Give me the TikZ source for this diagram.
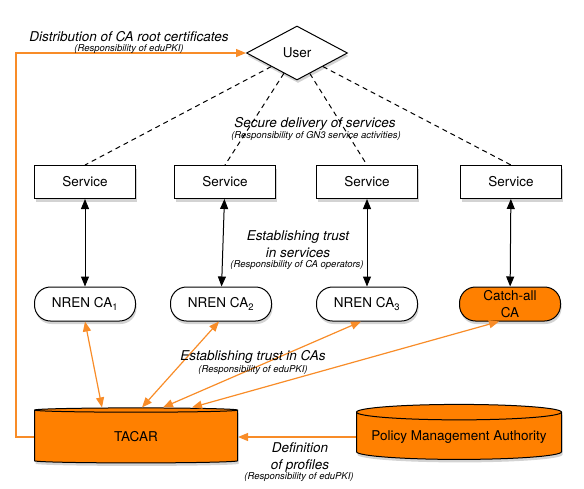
\documentclass[tikz,border=0pt]{standalone}
\usepackage{fontspec}
\setmainfont{TeX Gyre Heros}
\usetikzlibrary{positioning,shapes,shapes.geometric,shapes.misc,arrows.meta,shadows}
\definecolor{pkiorange}{RGB}{255,128,0}
\definecolor{pkiline}{RGB}{248,140,40}
\tikzset{
  txt/.style={font=\fontsize{13.5}{17}\selectfont},
  shade/.style={drop shadow={opacity=0.35,shadow xshift=1pt,shadow yshift=-3pt}},
  user/.style={diamond,draw,line width=1pt,fill=white,shade,txt,minimum width=101pt,minimum height=54pt,inner sep=0pt},
  service/.style={rectangle,draw,line width=1pt,fill=white,shade,txt,minimum width=101pt,minimum height=33pt},
  ca/.style={rectangle,rounded corners=16pt,draw,line width=1pt,fill=white,shade,txt,minimum width=101pt,minimum height=34pt,align=center,inner sep=1pt},
  db/.style={cylinder,shape border rotate=90,aspect=0.085,draw,line width=1pt,fill=pkiorange,shade,txt,minimum width=203pt,minimum height=55pt},
  lbl/.style={font=\fontsize{13.5}{17}\selectfont\itshape,align=center,inner sep=0pt},
  sublbl/.style={font=\fontsize{9.5}{11}\selectfont\itshape,inner sep=0pt},
  dline/.style={dashed,dash pattern=on 5pt off 4pt,line width=1pt},
  bline/.style={line width=1pt,{Triangle[length=10pt,width=8pt]}-{Triangle[length=10pt,width=8pt]}},
  oline/.style={pkiline,line width=1.2pt,-{Triangle[length=10pt,width=8pt]}},
  obline/.style={pkiline,line width=1.2pt,{Triangle[length=10pt,width=8pt]}-{Triangle[length=10pt,width=8pt]}}
}
\begin{document}
\begin{tikzpicture}[x=1pt,y=-1pt]
  \useasboundingbox (0,0) rectangle (584,488);
  \node[user] (user) at (297,53) {User};
  \node[service] (s1) at (85,182) {Service};
  \node[service] (s2) at (225,182) {Service};
  \node[service] (s3) at (367,182) {Service};
  \node[service] (s4) at (511,182) {Service};
  \node[ca] (ca1) at (85,304) {NREN CA\textsubscript{1}};
  \node[ca] (ca2) at (221,304) {NREN CA\textsubscript{2}};
  \node[ca] (ca3) at (367,304) {NREN CA\textsubscript{3}};
  \node[ca,fill=pkiorange] (caall) at (510,304) {Catch-all\\CA};
  \node[db] (tacar) at (136,437) {TACAR};
  \node[db,minimum width=205pt] (pma) at (459,437) {Policy Management Authority};

  \foreach \i in {1,...,4} {
    \draw[dline] (user) -- (s\i.north);
  }
  \draw[bline] (s1) -- (ca1);
  \draw[bline] (s2) -- (ca2);
  \draw[bline] (s3) -- (ca3);
  \draw[bline] (s4) -- (caall);

  \draw[obline] (ca1.south) -- ([xshift=-34pt]tacar.north);
  \draw[obline] ([xshift=-2pt]ca2.south) -- ([xshift=6pt]tacar.north);
  \draw[obline] ([xshift=-6pt]ca3.south) -- ([xshift=27pt]tacar.north);
  \draw[obline] ([xshift=-11pt]caall.south) -- ([xshift=56pt]tacar.north);
  \draw[oline] (pma.west) -- (tacar.east);
  \draw[oline] (tacar.west) -- ++(-18,0) |- (user.west);

  \node[lbl] (distlbl) at (129,37) {Distribution of CA root certificates};
  \node[sublbl] (distsub) at (129,49) {(Responsibility of eduPKI)};
  \node[lbl] (deliverylbl) at (315,124) {Secure delivery of services};
  \node[sublbl] (deliverysub) at (316,136) {(Responsibility of GN3 service activities)};
  \node[lbl] (servlbl) at (298,244) {Establishing trust\\in services};
  \node[sublbl] (servsub) at (297,265) {(Responsibility of CA operators)};
  \node[lbl] (calbl) at (253,357) {Establishing trust in CAs};
  \node[sublbl] (casub) at (253,370) {(Responsibility of eduPKI)};
  \node[lbl] (proflbl) at (300,457) {Definition\\of profiles};
  \node[sublbl] (profsub) at (299,477) {(Responsibility of eduPKI)};
\end{tikzpicture}
\end{document}
